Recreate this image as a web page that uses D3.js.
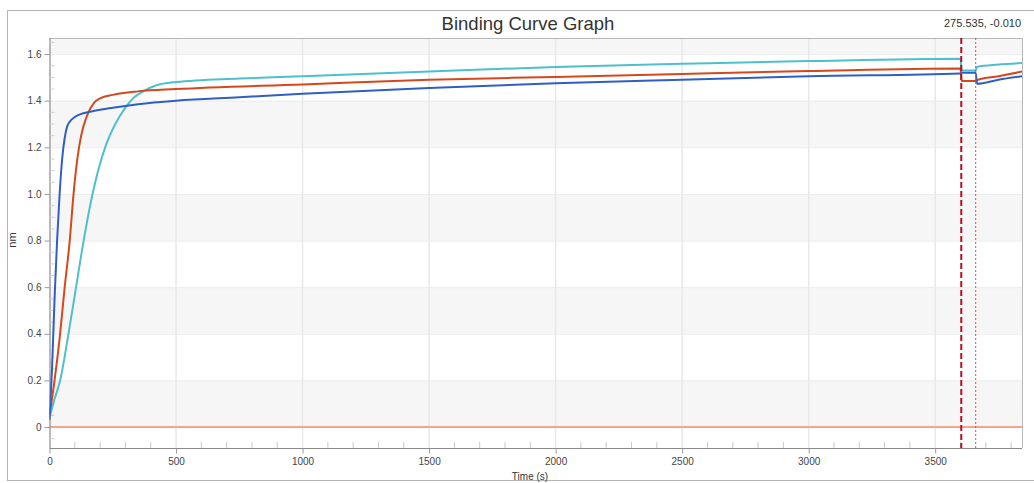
<!DOCTYPE html>
<html>
<head>
<meta charset="utf-8">
<script src="https://cdnjs.cloudflare.com/ajax/libs/d3/7.8.5/d3.min.js"></script>
<style>
  body { margin: 0; background: #fff; }
  svg { display: block; font-family: Arial, "Liberation Sans", sans-serif; }
</style>
</head>
<body>
<div class="render"></div>
<script>
// series: time (s) and response (nm)
var blue_t  = [0, 10, 20, 30, 40, 50, 60, 70, 80, 100, 130, 170, 250, 350, 500, 750, 1000, 1500, 2000, 2500, 3000, 3600, 3604, 3660, 3665, 3750, 3843];
var blue_v  = [0.03, 0.25, 0.55, 0.80, 1.00, 1.15, 1.24, 1.29, 1.31, 1.33, 1.345, 1.355, 1.37, 1.385, 1.40, 1.415, 1.43, 1.455, 1.475, 1.49, 1.505, 1.517, 1.52, 1.52, 1.473, 1.49, 1.505];

var red_t   = [0, 20, 40, 60, 80, 95, 110, 125, 150, 175, 200, 250, 350, 500, 1000, 1500, 2000, 2500, 3000, 3600, 3604, 3660, 3665, 3750, 3843];
var red_v   = [0.05, 0.20, 0.38, 0.60, 0.80, 1.00, 1.15, 1.25, 1.34, 1.39, 1.41, 1.425, 1.44, 1.45, 1.47, 1.49, 1.502, 1.515, 1.527, 1.538, 1.485, 1.485, 1.488, 1.505, 1.525];

var cyan_t  = [0, 20, 42, 75, 105, 135, 170, 220, 260, 300, 330, 370, 420, 500, 750, 1000, 1500, 2000, 2500, 3000, 3600, 3604, 3660, 3665, 3750, 3843];
var cyan_v  = [0.04, 0.12, 0.20, 0.40, 0.60, 0.80, 1.00, 1.20, 1.30, 1.37, 1.41, 1.44, 1.465, 1.48, 1.495, 1.505, 1.525, 1.545, 1.558, 1.57, 1.58, 1.53, 1.53, 1.545, 1.555, 1.562];

var x_ticks = [0, 500, 1000, 1500, 2000, 2500, 3000, 3500];
var y_ticks = [0, 0.2, 0.4, 0.6, 0.8, 1.0, 1.2, 1.4, 1.6];
var step_lines = [3603, 3660];   // dissociation start / cursor
var cursor_label = "275.535, -0.010";

var W = 1034, H = 483;
var p_left = 49.5, p_right = 1022, p_top = 38, p_bottom = 448;

var x = d3.scaleLinear().domain([0, 3843]).range([p_left, p_right]);
var y = d3.scaleLinear().domain([-0.09, 1.669]).range([p_bottom, p_top]);

var svg = d3.select(".render").append("svg")
    .attr("width", W)
    .attr("height", H);

// outer frame
svg.append("rect")
    .attr("x", 7.5).attr("y", 10.5)
    .attr("width", 1040).attr("height", 470)
    .attr("fill", "#fff")
    .attr("stroke", "#b4b4b4");

// alternating bands
var bands = [];
for (var i = 0; i < y_ticks.length; i++) {
    var lo = y_ticks[i];
    var hi = i + 1 < y_ticks.length ? y_ticks[i + 1] : y.domain()[1];
    if (i % 2 === 0) bands.push([lo, hi]);
}
svg.append("g").selectAll("rect").data(bands).enter().append("rect")
    .attr("x", p_left)
    .attr("width", p_right - p_left)
    .attr("y", function(d) { return y(d[1]); })
    .attr("height", function(d) { return y(d[0]) - y(d[1]); })
    .attr("fill", "#f6f6f6");

// horizontal grid
svg.append("g").selectAll("line").data(y_ticks).enter().append("line")
    .attr("x1", p_left).attr("x2", p_right)
    .attr("y1", function(d) { return y(d) + 0.5; })
    .attr("y2", function(d) { return y(d) + 0.5; })
    .attr("stroke", "#ececec");

// vertical grid
svg.append("g").selectAll("line").data(x_ticks.slice(1)).enter().append("line")
    .attr("x1", function(d) { return x(d); })
    .attr("x2", function(d) { return x(d); })
    .attr("y1", p_top).attr("y2", p_bottom)
    .attr("stroke", "#e8e8e8")
    .attr("stroke-width", 1.5);

// plot border top/right
svg.append("path")
    .attr("d", "M" + p_left + "," + (p_top + 0.5) + "H" + (p_right + 0.5) + "V" + p_bottom)
    .attr("fill", "none")
    .attr("stroke", "#b8b8b8");

// zero baseline
svg.append("line")
    .attr("x1", p_left).attr("x2", p_right)
    .attr("y1", y(0)).attr("y2", y(0))
    .attr("stroke", "#f2a68e")
    .attr("stroke-width", 2);

// axes
var xAxis = d3.axisBottom(x).tickValues(x_ticks).tickSize(5).tickPadding(4)
    .tickFormat(d3.format("d"));
var gx = svg.append("g").attr("transform", "translate(0," + (p_bottom + 0.5) + ")").call(xAxis);
var yAxis = d3.axisLeft(y).tickValues(y_ticks).tickSize(5).tickPadding(3)
    .tickFormat(function(d) { return d === 0 ? "0" : d3.format(".1f")(d); });
var gy = svg.append("g").attr("transform", "translate(" + p_left + ",0)").call(yAxis);

[gx, gy].forEach(function(g) {
    g.select(".domain").attr("stroke", "#8a8a8a").attr("stroke-width", 1.2);
    g.selectAll(".tick line").attr("stroke", "#9a9a9a");
    g.selectAll(".tick text").attr("fill", "#444").style("font-size", "10px");
});
gy.select(".domain").attr("d", "M0.5," + p_top + "V" + p_bottom);
gx.select(".domain").attr("d", "M" + p_left + ",0H" + p_right);

// minor ticks
var x_minor = d3.range(100, 3843, 100).filter(function(d) { return d % 500 !== 0; });
svg.append("g").selectAll("line").data(x_minor).enter().append("line")
    .attr("x1", function(d) { return x(d); })
    .attr("x2", function(d) { return x(d); })
    .attr("y1", p_bottom - 6).attr("y2", p_bottom)
    .attr("stroke", "#c8c8c8");
var y_minor = d3.range(-0.05, 1.669, 0.05).filter(function(d) { return Math.abs(Math.round(d * 20) % 4) !== 0; });
svg.append("g").selectAll("line").data(y_minor).enter().append("line")
    .attr("x1", p_left).attr("x2", p_left + 5)
    .attr("y1", function(d) { return y(d); })
    .attr("y2", function(d) { return y(d); })
    .attr("stroke", "#d0d0d0");

// curves
var series = [
    { t: cyan_t, v: cyan_v, color: "#4ec0cc" },
    { t: red_t,  v: red_v,  color: "#d4481c" },
    { t: blue_t, v: blue_v, color: "#2f5fc2" }
];
var line = d3.line()
    .x(function(d) { return x(d[0]); })
    .y(function(d) { return y(d[1]); })
    .curve(d3.curveMonotoneX);
svg.append("clipPath").attr("id", "plotclip")
    .append("rect").attr("x", p_left).attr("y", p_top).attr("width", p_right - p_left).attr("height", p_bottom - p_top);
svg.append("g").attr("clip-path", "url(#plotclip)")
    .selectAll("path").data(series).enter().append("path")
    .attr("d", function(s) { return line(d3.zip(s.t, s.v)); })
    .attr("fill", "none")
    .attr("stroke", function(s) { return s.color; })
    .attr("stroke-width", 2);

// step markers
svg.append("line")
    .attr("x1", x(step_lines[0])).attr("x2", x(step_lines[0]))
    .attr("y1", p_top).attr("y2", p_bottom)
    .attr("stroke", "#b8101e")
    .attr("stroke-width", 2)
    .attr("stroke-dasharray", "6,3");
svg.append("line")
    .attr("x1", x(step_lines[1])).attr("x2", x(step_lines[1]))
    .attr("y1", p_top).attr("y2", p_bottom)
    .attr("stroke", "#e84848")
    .attr("stroke-width", 1)
    .attr("stroke-dasharray", "2,2");

// texts
svg.append("text")
    .attr("x", 528).attr("y", 30)
    .attr("text-anchor", "middle")
    .style("font-size", "18.5px")
    .attr("fill", "#333")
    .text("Binding Curve Graph");
svg.append("text")
    .attr("x", 944).attr("y", 27)
    .style("font-size", "11px")
    .attr("fill", "#333")
    .text(cursor_label);
svg.append("text")
    .attr("x", 530).attr("y", 480)
    .attr("text-anchor", "middle")
    .style("font-size", "10px")
    .attr("fill", "#333")
    .text("Time (s)");
svg.append("text")
    .attr("transform", "translate(16,240) rotate(-90)")
    .attr("text-anchor", "middle")
    .style("font-size", "11px")
    .attr("fill", "#333")
    .text("nm");
</script>
</body>
</html>
